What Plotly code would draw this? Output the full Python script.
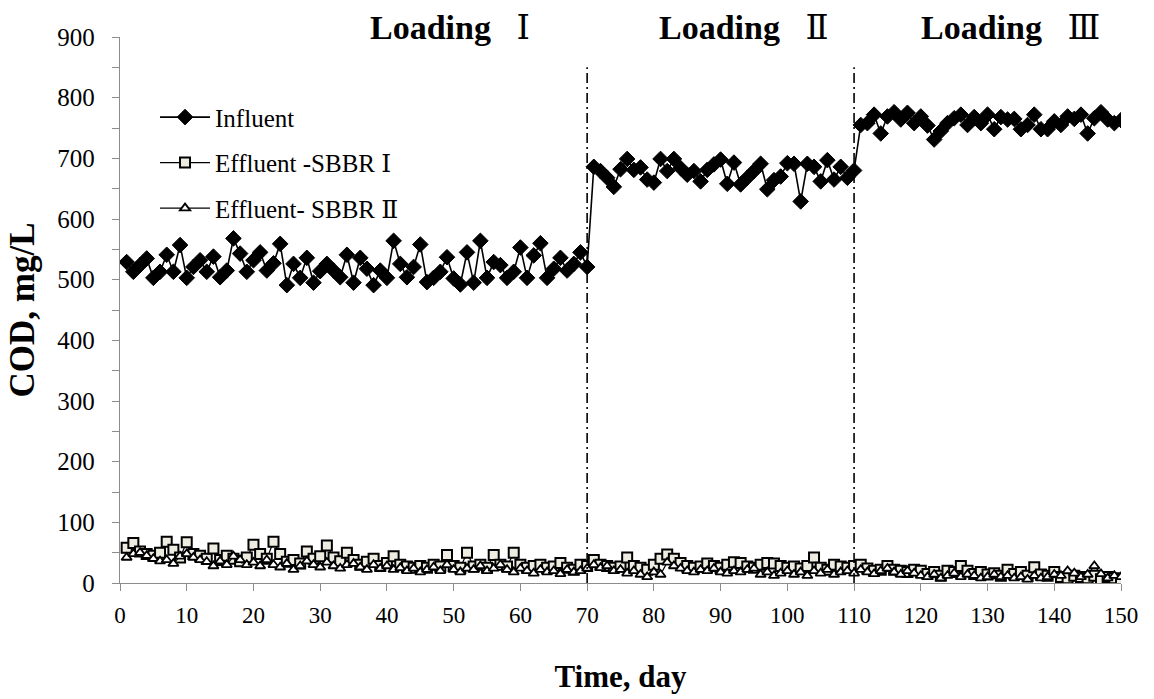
import plotly.graph_objects as go

# Sampling days
days = list(range(1, 151))

# Influent COD, mg/L
influent = [
    529, 513, 524, 535, 503, 513, 541, 513, 557, 503, 521, 532, 513, 538, 504, 515, 568, 543,
    513, 532, 545, 515, 527, 559, 491, 526, 503, 536, 495, 514, 526, 515, 504, 541, 495,
    536, 518, 491, 515, 503, 564, 526, 504, 521, 558, 496, 503, 513, 537, 502, 492, 545,
    495, 564, 503, 529, 524, 503, 513, 553, 503, 540, 560, 503, 518, 536, 515, 526, 545, 521,
    686, 679, 668, 653, 682, 699, 681, 685, 665, 660, 699, 679, 699, 684, 673, 679, 662, 681,
    690, 698, 658, 693, 657, 668, 679, 691, 649, 664, 670, 692, 691, 629, 691, 686, 662, 697,
    665, 686, 668, 680,
    755, 758, 772, 741, 769, 776, 764, 775, 758, 769, 754, 731, 745, 758, 766, 772, 755, 768,
    758, 772, 748, 768, 764, 765, 748, 755, 772, 748, 748, 761, 755, 769, 765, 772, 741, 766,
    776, 764, 758, 763,
]

# Effluent COD of reactor SBBR I, mg/L
effluent_1 = [
    58, 66, 52, 48, 45, 50, 68, 55, 42, 67, 48, 45, 40, 57, 38, 45, 40, 36, 42, 63, 48, 40,
    68, 48, 35, 38, 32, 52, 40, 44, 62, 42, 36, 50, 38,
    30, 35, 40, 28, 33, 44, 30, 27, 25, 28, 25, 30, 27, 46, 28, 25, 50, 27, 30, 25, 46, 30,
    27, 50, 30, 25, 28, 30, 25, 27, 33, 25, 22, 30, 28,
    38, 30, 28, 25, 27, 42, 28, 25, 22, 30, 40, 47, 40, 33, 28, 25, 27, 32, 28, 25, 30, 34,
    33, 27, 25, 30, 33, 32, 28, 25, 27, 24, 28, 42, 25, 22, 30, 27, 25, 28,
    30, 24, 20, 22, 28, 22, 20, 18, 22, 20, 15, 18, 12, 20, 18, 28, 20, 15, 18, 14, 16, 12,
    22, 15, 18, 12, 26, 14, 12, 18, 10, 8, 12, 10, 8, 12, 6, 10, 8, 6,
]

# Effluent COD of reactor SBBR II, mg/L
effluent_2 = [
    42, 48, 50, 45, 40, 36, 38, 32, 44, 48, 42, 38, 35, 28, 36, 30, 44, 38, 30, 34, 28, 38,
    30, 26, 32, 22, 28, 36, 30, 26, 34, 28, 24, 30, 32,
    26, 22, 30, 24, 28, 22, 25, 20, 24, 18, 22, 26, 20, 30, 22, 18, 24, 22, 28, 20, 24, 30,
    22, 18, 24, 20, 16, 22, 18, 20, 15, 22, 18, 20, 24,
    30, 25, 28, 20, 22, 16, 20, 14, 10, 18, 14, 34, 28, 24, 20, 18, 22, 20, 24, 18, 16, 20,
    18, 22, 24, 14, 18, 12, 16, 20, 14, 18, 12, 20, 16, 22, 14, 18, 20, 16,
    22, 18, 15, 20, 24, 18, 14, 20, 16, 12, 10, 14, 8, 12, 16, 10, 14, 12, 8, 10, 14, 10,
    12, 8, 10, 6, 12, 8, 10, 14, 12, 20, 16, 10, 14, 28, 15, 8, 12, 10,
]

series_names = ["Influent", "Effluent -SBBR \u2160", "Effluent- SBBR \u2161"]

# Loading phases: boundaries (day) and label positions
phase_boundaries = [70, 110]
boundary_top = 850
phase_numerals = ["\u2160", "\u2161", "\u2162"]
phase_label_days = [49.5, 93.5, 133.5]

SERIF = "Liberation Serif, DejaVu Serif, serif"
AXIS_GREY = "#8c8c8c"

fig = go.Figure()

fig.add_trace(go.Scatter(
    x=days, y=influent, name=series_names[0], mode="lines+markers",
    line=dict(color="black", width=1.6),
    marker=dict(symbol="diamond", size=12, color="black", line=dict(color="black", width=1)),
    legendgroup="a",
))
fig.add_trace(go.Scatter(
    x=days, y=effluent_1, name=series_names[1], mode="lines+markers",
    line=dict(color="black", width=1.2),
    marker=dict(symbol="square", size=10, color="#EEECE1", line=dict(color="black", width=2)),
    legendgroup="b",
))
fig.add_trace(go.Scatter(
    x=days, y=effluent_2, name=series_names[2], mode="lines+markers",
    line=dict(color="black", width=1.2),
    marker=dict(symbol="triangle-up", size=9, color="white", line=dict(color="black", width=1.8)),
    legendgroup="c",
))

# Phase boundary lines
for b in phase_boundaries:
    fig.add_trace(go.Scatter(
        x=[b, b], y=[0, boundary_top], mode="lines", showlegend=False, hoverinfo="skip",
        line=dict(color="black", width=1.6, dash="10px,4px,2px,4px"),
    ))

for numeral, d in zip(phase_numerals, phase_label_days):
    fig.add_annotation(
        x=d, y=1.018, xref="x", yref="paper",
        text="<b>Loading</b>\u00a0\u00a0\u00a0" + numeral, showarrow=False,
        xanchor="center", yanchor="middle",
        font=dict(family=SERIF, size=34, color="black"),
    )

fig.update_layout(
    width=1154, height=699,
    margin=dict(l=120, r=33, t=37, b=114),
    paper_bgcolor="white", plot_bgcolor="white",
    showlegend=True,
    legend=dict(
        x=0.035, y=0.895, xanchor="left", yanchor="top",
        bgcolor="rgba(0,0,0,0)", borderwidth=0,
        font=dict(family=SERIF, size=25, color="black"),
        tracegroupgap=10, itemwidth=50,
    ),
    font=dict(family=SERIF, color="black"),
)

fig.update_xaxes(
    range=[0, 150], tick0=0, dtick=10, showgrid=False, zeroline=False,
    showline=True, linecolor=AXIS_GREY, linewidth=1.3,
    ticks="outside", ticklen=7, tickcolor=AXIS_GREY, tickwidth=1.3,
    tickfont=dict(family=SERIF, size=23, color="black"),
    ticklabelstandoff=4,
    title=dict(text="Time, day", font=dict(family=SERIF, size=31, color="black", weight="bold"),
               standoff=38),
)
fig.update_yaxes(
    range=[0, 900], tick0=0, dtick=100, showgrid=False, zeroline=False,
    showline=True, linecolor=AXIS_GREY, linewidth=1.3,
    ticks="outside", ticklen=7, tickcolor=AXIS_GREY, tickwidth=1.3,
    minor=dict(dtick=50, ticks="outside", ticklen=7, tickcolor=AXIS_GREY, tickwidth=1.3, showgrid=False),
    tickfont=dict(family=SERIF, size=25, color="black"),
    ticklabelstandoff=12,
    title=dict(text="COD, mg/L", font=dict(family=SERIF, size=35, color="black", weight="bold"),
               standoff=12),
)

fig.write_html("out.html")
